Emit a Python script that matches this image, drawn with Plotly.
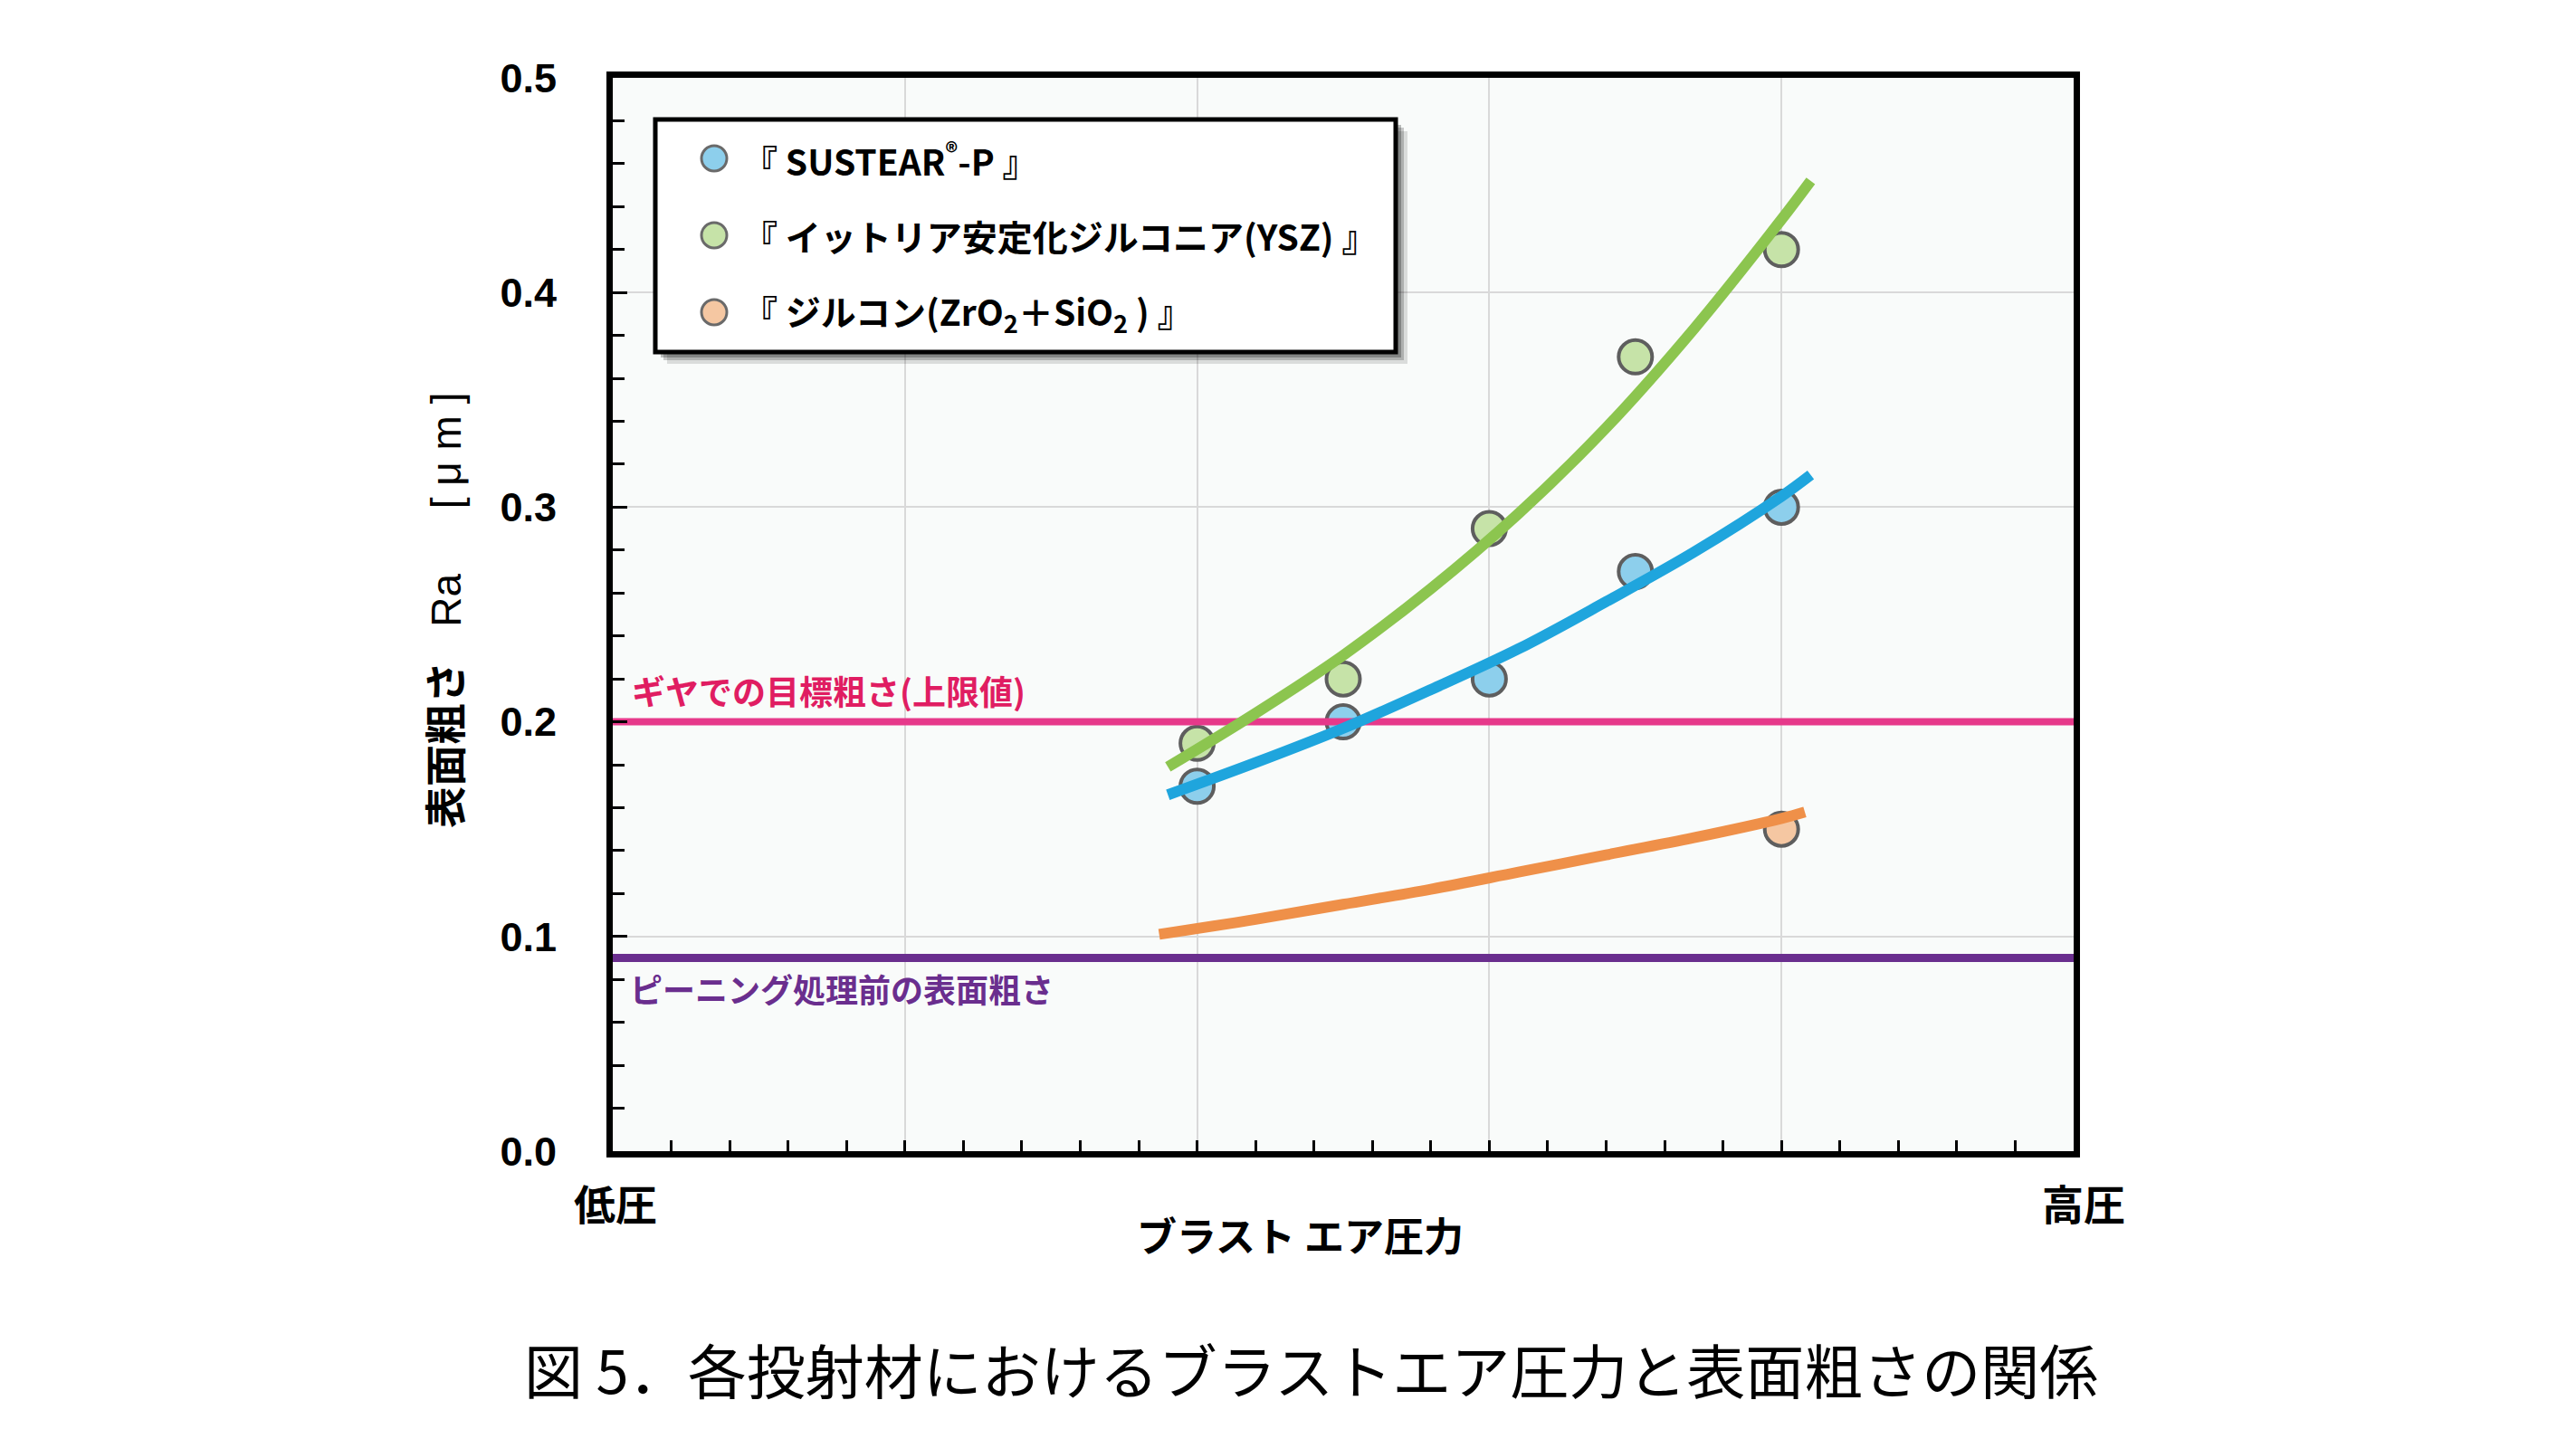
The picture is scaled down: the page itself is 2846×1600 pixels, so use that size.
import plotly.graph_objects as go

# ブラストエア圧力は 0=低圧 … 5=高圧 の相対目盛
pressure = [2.0, 2.5, 3.0, 3.5, 4.0]
ra_sustear = [0.17, 0.20, 0.22, 0.27, 0.30]
ra_ysz = [0.19, 0.22, 0.29, 0.37, 0.42]
pressure_zircon = [4.0]
ra_zircon = [0.15]

# 近似曲線
curve_x = [1.9, 2.2, 2.5, 2.8, 3.1, 3.4, 3.7, 4.0, 4.1]
curve_sustear = [0.166, 0.181, 0.197, 0.215, 0.234, 0.256, 0.279, 0.305, 0.315]
curve_ysz = [0.179, 0.204, 0.231, 0.262, 0.297, 0.337, 0.383, 0.434, 0.452]
curve_zircon_x = [1.87, 2.2, 2.5, 2.8, 3.1, 3.4, 3.7, 4.0, 4.08]
curve_zircon = [0.101, 0.108, 0.115, 0.122, 0.130, 0.138, 0.146, 0.155, 0.158]

# 基準線
target_ra = 0.20   # ギヤでの目標粗さ（上限値）
before_ra = 0.09   # ピーニング処理前の表面粗さ
x_span = [0, 5]

names = ["『 SUSTEAR<sup>®</sup>-P 』",
         "『 イットリア安定化ジルコニア(YSZ) 』",
         "『 ジルコン(ZrO<sub>2</sub>＋SiO<sub>2</sub> ) 』"]
fill_cols = ["#8DCFEC", "#C6E3A8", "#F5C7A2"]
line_cols = ["#1FA5DD", "#8CC54F", "#EF9049"]

JP = "Noto Sans CJK JP"
MIX = "Liberation Sans, Noto Sans CJK JP"
W, H = 2846, 1600
L, R, T, B = 669, 2283, 78, 1264


def px_x(p):
    return (p - L) / (R - L)


def px_y(p):
    return (B - p) / (B - T)


fig = go.Figure()

# 測定点
for xs, ys, fc, nm in [(pressure, ra_sustear, fill_cols[0], names[0]),
                       (pressure, ra_ysz, fill_cols[1], names[1]),
                       (pressure_zircon, ra_zircon, fill_cols[2], names[2])]:
    fig.add_trace(go.Scatter(
        x=xs, y=ys, mode="markers", name=nm, showlegend=False,
        marker=dict(size=37, color=fc, line=dict(color="#5E5E5E", width=4))
    ))

# 基準線
fig.add_trace(go.Scatter(x=x_span, y=[target_ra, target_ra], mode="lines",
                         line=dict(color="#E6398A", width=8), showlegend=False))
fig.add_trace(go.Scatter(x=x_span, y=[before_ra, before_ra], mode="lines",
                         line=dict(color="#6A2E8E", width=9), showlegend=False))

# 近似曲線
for xs, ys, lc in [(curve_zircon_x, curve_zircon, line_cols[2]),
                   (curve_x, curve_ysz, line_cols[1]),
                   (curve_x, curve_sustear, line_cols[0])]:
    fig.add_trace(go.Scatter(x=xs, y=ys, mode="lines", line_shape="spline",
                             line=dict(color=lc, width=12), showlegend=False))

# 凡例（手描き）
shapes = []
lx0, ly0, lx1, ly1 = 716, 124, 1534, 381
for off, op in [(13, 0.12), (9, 0.2), (6, 0.25)]:
    shapes.append(dict(type="rect", xref="paper", yref="paper", layer="above",
                       x0=px_x(lx0 + off), x1=px_x(lx1 + off),
                       y0=px_y(ly0 + off), y1=px_y(ly1 + off),
                       fillcolor="rgba(0,0,0,%s)" % op, line=dict(width=0)))
shapes.append(dict(type="rect", xref="paper", yref="paper", layer="above",
                   x0=px_x(lx0), x1=px_x(lx1), y0=px_y(ly0), y1=px_y(ly1),
                   fillcolor="white", line=dict(color="black", width=5)))
rows = [167, 252, 337]
annotations = []
for i, ry in enumerate(rows):
    shapes.append(dict(type="circle", xref="paper", yref="paper", layer="above",
                       xsizemode="pixel", ysizemode="pixel",
                       xanchor=px_x(781), yanchor=px_y(ry),
                       x0=-14, x1=14, y0=-14, y1=14,
                       fillcolor=fill_cols[i], line=dict(color="#6A6A6A", width=3)))
    annotations.append(dict(x=px_x(810), y=px_y(ry), xref="paper", yref="paper",
                            xanchor="left", yanchor="middle", showarrow=False,
                            text=names[i],
                            font=dict(family=JP, size=39, color="black", weight="bold")))

# 基準線ラベル
annotations.append(dict(x=px_x(688), y=target_ra, xref="paper", yref="y",
                        xanchor="left", yanchor="bottom", yshift=6, showarrow=False,
                        text="ギヤでの目標粗さ(上限値)",
                        font=dict(family=JP, size=37, color="#E01D62", weight="bold")))
annotations.append(dict(x=px_x(686), y=before_ra, xref="paper", yref="y",
                        xanchor="left", yanchor="top", yshift=-5, showarrow=False,
                        text="ピーニング処理前の表面粗さ",
                        font=dict(family=JP, size=36, color="#6A2E8E", weight="bold")))

# 軸ラベル類
annotations.append(dict(x=0, y=0, xref="x", yref="paper", xshift=3, yshift=-56,
                        xanchor="center", yanchor="middle", showarrow=False, text="低圧",
                        font=dict(family=JP, size=46, color="black", weight="bold")))
annotations.append(dict(x=5, y=0, xref="x", yref="paper", xshift=11, yshift=-56,
                        xanchor="center", yanchor="middle", showarrow=False, text="高圧",
                        font=dict(family=JP, size=46, color="black", weight="bold")))
annotations.append(dict(x=0.5, y=0, xref="paper", yref="paper", xshift=-48, yshift=-92,
                        xanchor="center", yanchor="middle", showarrow=False,
                        text="ブラスト エア圧力",
                        font=dict(family=JP, size=44, color="black", weight="bold")))
annotations.append(dict(x=0, y=0.5, xref="paper", yref="paper", xshift=-184, yshift=4,
                        xanchor="center", yanchor="middle", showarrow=False, textangle=-90,
                        text="<b>表面粗さ</b>\u00a0\u00a0\u00a0Ra\u3000\u00a0\u00a0[\u00a0μ\u00a0m\u00a0]",
                        font=dict(family=MIX, size=46, color="black")))
annotations.append(dict(x=0.5, y=0, xref="paper", yref="paper", xshift=-36, yshift=-240,
                        xanchor="center", yanchor="middle", showarrow=False,
                        text="図 5．各投射材におけるブラストエア圧力と表面粗さの関係",
                        font=dict(family=JP, size=65, color="black")))

fig.update_layout(
    width=W, height=H,
    margin=dict(l=L, r=W - R, t=T, b=H - B),
    paper_bgcolor="white",
    plot_bgcolor="#F9FBFA",
    showlegend=False,
    shapes=shapes,
    annotations=annotations,
    xaxis=dict(
        range=[0, 5], dtick=1, showticklabels=False,
        ticks="inside", ticklen=12, tickwidth=3, tickcolor="black",
        showgrid=True, gridcolor="#D9D9D9", gridwidth=2, zeroline=False,
        showline=True, linewidth=7, linecolor="black", mirror=True,
        minor=dict(dtick=0.2, ticks="inside", ticklen=12, tickwidth=3,
                   tickcolor="black", showgrid=False),
    ),
    yaxis=dict(
        range=[0, 0.5], dtick=0.1, tickformat=".1f",
        ticks="inside", ticklen=16, tickwidth=3, tickcolor="black",
        showgrid=True, gridcolor="#D9D9D9", gridwidth=2, zeroline=False,
        showline=True, linewidth=7, linecolor="black", mirror=True,
        minor=dict(dtick=0.02, ticks="inside", ticklen=13, tickwidth=3,
                   tickcolor="black", showgrid=False),
        tickfont=dict(family="Liberation Sans", size=45, color="black", weight="bold"),
        ticklabelstandoff=46,
    ),
)

fig.write_html("out.html")
